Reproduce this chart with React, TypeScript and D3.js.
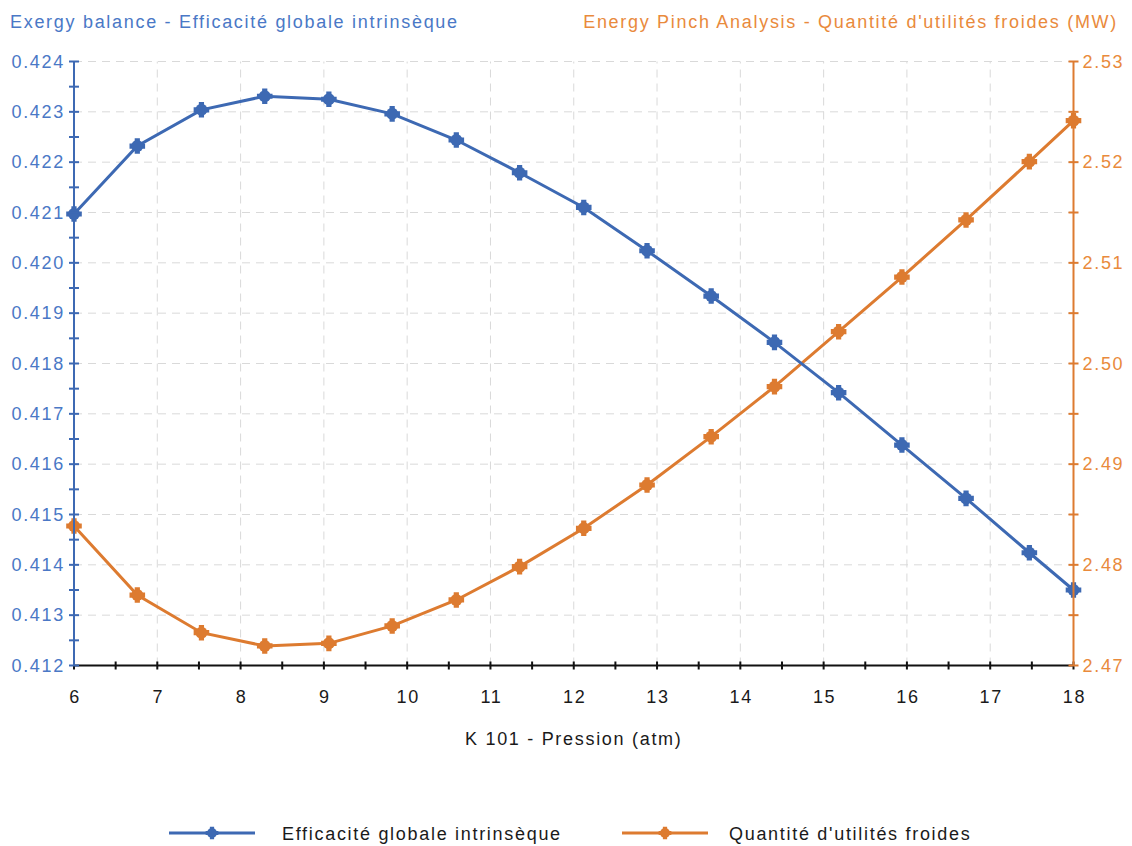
import React, { useEffect, useRef } from "react";
import * as d3 from "d3";

// pression K 101 (atm)
const pressions = [6, 6.76, 7.53, 8.29, 9.06, 9.82, 10.59, 11.35, 12.12, 12.88, 13.65, 14.41, 15.18, 15.94, 16.71, 17.47, 18];
// Efficacité globale intrinsèque (axe gauche)
const efficacite = [0.42097, 0.42232, 0.42304, 0.42331, 0.42325, 0.42296, 0.42244, 0.42179, 0.4211, 0.42024, 0.41934, 0.41842, 0.41742, 0.41638, 0.41532, 0.41424, 0.4135];
// Quantité d'utilités froides en MW (axe droit)
const utilitesFroides = [2.48386, 2.477, 2.47326, 2.47194, 2.4722, 2.47393, 2.47651, 2.47982, 2.48363, 2.48793, 2.49273, 2.4977, 2.50316, 2.50859, 2.51426, 2.52005, 2.52412];

const leftTitle = "Exergy balance - Efficacité globale intrinsèque";
const rightTitle = "Energy Pinch Analysis - Quantité d'utilités froides (MW)";
const xTitle = "K 101 - Pression (atm)";
const seriesNames = ["Efficacité globale intrinsèque", "Quantité d'utilités froides"];

const BLUE = "#3d69b3";
const BLUE_TXT = "#4a78c6";
const ORANGE = "#dd7b30";
const ORANGE_TXT = "#e98a3c";
const FONT = "'Liberation Sans', Arial, sans-serif";

//same text style everywhere
const txt = (sel, color) =>
  sel.attr("fill", color).style("font-family", FONT).style("font-size", "18px").style("letter-spacing", "1.7px");

const App = () => {
  const svgRef = useRef<SVGSVGElement>(null);

  useEffect(() => {
    const svg = d3.select(svgRef.current);
    svg.selectAll("*").remove();

    const width = 1132;
    const height = 846;
    const margin = { top: 61.5, right: 58.5, bottom: 180.5, left: 74 };

    const x = d3.scaleLinear().domain([6, 18]).range([margin.left, width - margin.right]);
    const yL = d3.scaleLinear().domain([0.412, 0.424]).range([height - margin.bottom, margin.top]);
    const yR = d3.scaleLinear().domain([2.47, 2.53]).range([height - margin.bottom, margin.top]);

    const x0 = margin.left;
    const x1 = width - margin.right;
    const y0 = height - margin.bottom;
    const y1 = margin.top;

    //grid
    const grid = svg.append("g").attr("stroke", "#d9d9d9").attr("stroke-width", 1).attr("stroke-dasharray", "8,6");
    d3.range(7, 19).forEach((v) => {
      grid.append("line").attr("x1", x(v)).attr("x2", x(v)).attr("y1", y0).attr("y2", y1);
    });
    d3.range(1, 13).forEach((i) => {
      const v = 0.412 + i * 0.001;
      grid.append("line").attr("x1", x0).attr("x2", x1).attr("y1", yL(v)).attr("y2", yL(v));
    });

    //series
    const data = pressions.map((p, i) => ({ p, e: efficacite[i], u: utilitesFroides[i] }));
    const marker = d3.symbol().type(d3.symbolCross).size(135);

    const drawSeries = (yScale, key, color) => {
      const line = d3
        .line<any>()
        .x((d) => x(d.p))
        .y((d) => yScale(d[key]));
      svg.append("path").datum(data).attr("fill", "none").attr("stroke", color).attr("stroke-width", 3).attr("d", line);
      const g = svg.append("g").attr("fill", color);
      data.forEach((d) => {
        g.append("path").attr("transform", `translate(${x(d.p)},${yScale(d[key])})`).attr("d", marker);
        g.append("circle").attr("cx", x(d.p)).attr("cy", yScale(d[key])).attr("r", 6);
      });
    };
    drawSeries(yR, "u", ORANGE);
    drawSeries(yL, "e", BLUE);

    //x axis
    const xAxis = svg.append("g");
    xAxis.append("line").attr("x1", x0).attr("x2", x1).attr("y1", y0).attr("y2", y0).attr("stroke", "#111").attr("stroke-width", 2);
    d3.range(6, 18.01, 0.5).forEach((v) => {
      xAxis.append("line").attr("x1", x(v)).attr("x2", x(v)).attr("y1", y0 - 4).attr("y2", y0 + 4).attr("stroke", "#111").attr("stroke-width", 2);
    });
    d3.range(6, 19).forEach((v) => {
      txt(xAxis.append("text").attr("x", x(v) + 1).attr("y", y0 + 37).attr("text-anchor", "middle"), "#1a1a1a").text(v);
    });
    txt(svg.append("text").attr("x", (x0 + x1) / 2).attr("y", y0 + 79).attr("text-anchor", "middle"), "#1a1a1a").text(xTitle);

    //left axis
    const lAxis = svg.append("g");
    lAxis.append("line").attr("x1", x0).attr("x2", x0).attr("y1", y0).attr("y2", y1).attr("stroke", BLUE).attr("stroke-width", 2);
    d3.range(0, 25).forEach((i) => {
      const yy = yL(0.412 + i * 0.0005);
      lAxis.append("line").attr("x1", x0 - 5).attr("x2", x0 + 5).attr("y1", yy).attr("y2", yy).attr("stroke", BLUE).attr("stroke-width", 2);
    });
    d3.range(0, 13).forEach((i) => {
      const v = 0.412 + i * 0.001;
      txt(lAxis.append("text").attr("x", x0 - 9).attr("y", yL(v) + 6).attr("text-anchor", "end"), BLUE_TXT).text(v.toFixed(3));
    });

    //right axis
    const rAxis = svg.append("g");
    rAxis.append("line").attr("x1", x1).attr("x2", x1).attr("y1", y0).attr("y2", y1).attr("stroke", ORANGE).attr("stroke-width", 2);
    d3.range(0, 13).forEach((i) => {
      const yy = yR(2.47 + i * 0.005);
      rAxis.append("line").attr("x1", x1 - 5).attr("x2", x1 + 5).attr("y1", yy).attr("y2", yy).attr("stroke", ORANGE).attr("stroke-width", 2);
    });
    d3.range(0, 7).forEach((i) => {
      const v = 2.47 + i * 0.01;
      txt(rAxis.append("text").attr("x", x1 + 9).attr("y", yR(v) + 6).attr("text-anchor", "start"), ORANGE_TXT).text(v.toFixed(2));
    });

    //titles
    txt(svg.append("text").attr("x", 10).attr("y", 28), BLUE_TXT).text(leftTitle);
    txt(svg.append("text").attr("x", 1118).attr("y", 28).attr("text-anchor", "end"), ORANGE_TXT).text(rightTitle);

    //legend
    const legend = [
      { name: seriesNames[0], color: BLUE, lx: 169, tx: 282 },
      { name: seriesNames[1], color: ORANGE, lx: 622, tx: 729 },
    ];
    legend.forEach((l) => {
      const g = svg.append("g");
      g.append("line").attr("x1", l.lx).attr("x2", l.lx + 86).attr("y1", 833).attr("y2", 833).attr("stroke", l.color).attr("stroke-width", 3);
      g.append("path").attr("transform", `translate(${l.lx + 43},833)`).attr("d", d3.symbol().type(d3.symbolCross).size(90)).attr("fill", l.color);
      g.append("circle").attr("cx", l.lx + 43).attr("cy", 833).attr("r", 5).attr("fill", l.color);
      txt(g.append("text").attr("x", l.tx).attr("y", 840), "#1a1a1a").text(l.name);
    });
  }, []);

  return (
    <svg
      ref={svgRef}
      width={1132}
      height={846}
      style={{ position: "absolute", left: 0, top: 0, background: "#fff" }}
    />
  );
};

export default App;
